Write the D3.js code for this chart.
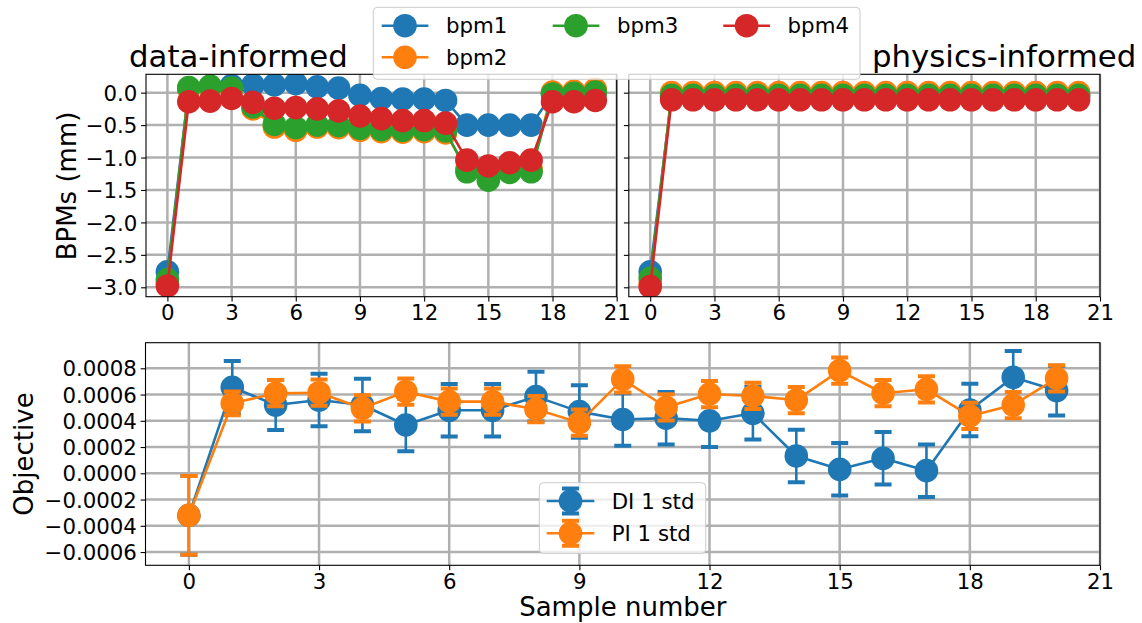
<!DOCTYPE html>
<html>
<head>
<meta charset="utf-8">
<script src="https://cdn.jsdelivr.net/npm/d3@7"></script>
<style>
  body { margin: 0; background: #fff; }
  svg { font-family: "DejaVu Sans", sans-serif; }
</style>
</head>
<body>
<div id="vis"></div>
<script>
// sample numbers and tick values
var samples = [0, 1, 2, 3, 4, 5, 6, 7, 8, 9, 10, 11, 12, 13, 14, 15, 16, 17, 18, 19, 20];
var xTicks = [0, 3, 6, 9, 12, 15, 18, 21];
var bpmTicks = [0.0, -0.5, -1.0, -1.5, -2.0, -2.5, -3.0];
var objTicks = [0.0008, 0.0006, 0.0004, 0.0002, 0.0, -0.0002, -0.0004, -0.0006];
var bpmNames = ["bpm1", "bpm2", "bpm3", "bpm4"];
var errNames = ["DI 1 std", "PI 1 std"];

// data-informed BPM readings (mm)
var bpm1DI = [-2.76, 0.06, 0.08, 0.11, 0.12, 0.12, 0.14, 0.09, 0.07, -0.04, -0.09, -0.10, -0.10, -0.12, -0.50, -0.50, -0.50, -0.50, -0.02, -0.01, 0.00];
var bpm2DI = [-2.93, 0.06, 0.08, 0.05, -0.25, -0.53, -0.58, -0.53, -0.54, -0.58, -0.60, -0.61, -0.60, -0.62, -1.18, -1.28, -1.18, -1.17, 0.01, 0.02, 0.05];
var bpm3DI = [-2.88, 0.08, 0.10, 0.07, -0.22, -0.49, -0.54, -0.50, -0.51, -0.55, -0.57, -0.58, -0.57, -0.59, -1.22, -1.35, -1.23, -1.22, -0.02, -0.01, 0.01];
var bpm4DI = [-2.98, -0.14, -0.13, -0.09, -0.15, -0.24, -0.23, -0.25, -0.28, -0.36, -0.40, -0.43, -0.43, -0.47, -1.04, -1.13, -1.08, -1.04, -0.14, -0.14, -0.12];

// physics-informed BPM readings (mm)
var bpm1PI = [-2.76, -0.05, -0.05, -0.05, -0.05, -0.05, -0.05, -0.05, -0.05, -0.05, -0.05, -0.05, -0.05, -0.05, -0.05, -0.05, -0.05, -0.05, -0.05, -0.05, -0.05];
var bpm2PI = [-2.95, 0.00, 0.00, 0.00, 0.00, 0.00, 0.00, 0.00, 0.00, 0.00, 0.00, 0.00, 0.00, 0.00, 0.00, 0.00, 0.00, 0.00, 0.00, 0.00, 0.00];
var bpm3PI = [-2.86, -0.04, -0.04, -0.04, -0.04, -0.04, -0.04, -0.04, -0.04, -0.04, -0.04, -0.04, -0.04, -0.04, -0.04, -0.04, -0.04, -0.04, -0.04, -0.04, -0.04];
var bpm4PI = [-2.99, -0.11, -0.11, -0.11, -0.11, -0.11, -0.11, -0.11, -0.11, -0.11, -0.11, -0.11, -0.11, -0.11, -0.11, -0.11, -0.11, -0.11, -0.11, -0.11, -0.11];

// objective mean and std
var diMean = [-0.00032, 0.000655, 0.00052, 0.000558, 0.00052, 0.000368, 0.00048, 0.00048, 0.000584, 0.00047, 0.00041, 0.00042, 0.0004, 0.000457, 0.000132, 0.00003, 0.000114, 0.00002, 0.000482, 0.000731, 0.00063];
var diStd = [0.0003, 0.0002, 0.00019, 0.0002, 0.0002, 0.0002, 0.0002, 0.0002, 0.00019, 0.0002, 0.0002, 0.0002, 0.0002, 0.0002, 0.0002, 0.0002, 0.0002, 0.0002, 0.0002, 0.0002, 0.00019];
var piMean = [-0.00032, 0.000533, 0.00061, 0.000614, 0.000495, 0.000622, 0.000546, 0.000546, 0.000488, 0.000386, 0.000716, 0.000503, 0.000604, 0.000589, 0.000558, 0.000782, 0.00061, 0.00064, 0.000437, 0.00052, 0.000724];
var piStd = [0.0003, 0.00009, 0.0001, 0.0001, 0.0001, 0.0001, 0.0001, 0.0001, 0.0001, 0.0001, 0.0001, 0.0001, 0.0001, 0.0001, 0.0001, 0.0001, 0.0001, 0.0001, 0.0001, 0.0001, 0.0001];

var colors = ["#1f77b4", "#ff7f0e", "#2ca02c", "#d62728"];
var w = 1142, h = 623;
var markerR = 11.8, lineW = 2.6, gridColor = "#b0b0b0", gridW = 2.5;
var tickFont = "21.3px", labelFont = "26px", titleFont = "30.8px", legendFont = "21.3px";

var svg = d3.select("#vis").append("svg")
    .attr("width", w)
    .attr("height", h);

var clipId = 0;

function makePanel(box, xDomain, yDomain, yTickVals, yFmt, showYLabels) {
  var x = d3.scaleLinear().domain(xDomain).range([box.left, box.right]);
  var y = d3.scaleLinear().domain(yDomain).range([box.bottom, box.top]);
  var g = svg.append("g");

  // grid
  g.append("g").selectAll("line.gx")
    .data(xTicks).enter().append("line")
    .attr("x1", function(d) { return x(d); })
    .attr("x2", function(d) { return x(d); })
    .attr("y1", box.top).attr("y2", box.bottom)
    .style("stroke", gridColor).style("stroke-width", gridW);
  g.append("g").selectAll("line.gy")
    .data(yTickVals).enter().append("line")
    .attr("y1", function(d) { return y(d); })
    .attr("y2", function(d) { return y(d); })
    .attr("x1", box.left).attr("x2", box.right)
    .style("stroke", gridColor).style("stroke-width", gridW);

  clipId++;
  svg.append("clipPath").attr("id", "clip" + clipId)
    .append("rect")
    .attr("x", box.left).attr("y", box.top)
    .attr("width", box.right - box.left).attr("height", box.bottom - box.top);
  var plot = g.append("g").attr("clip-path", "url(#clip" + clipId + ")");

  return { x: x, y: y, g: g, plot: plot, box: box, yTickVals: yTickVals, yFmt: yFmt, showYLabels: showYLabels };
}

function finishPanel(p) {
  var box = p.box;
  var xAxis = p.g.append("g")
    .attr("transform", "translate(0," + box.bottom + ")")
    .call(d3.axisBottom(p.x).tickValues(xTicks).tickFormat(d3.format("d")).tickSizeOuter(0).tickSize(4.9).tickPadding(3.6));
  var yAxis = p.g.append("g")
    .attr("transform", "translate(" + box.left + ",0)")
    .call(d3.axisLeft(p.y).tickValues(p.yTickVals).tickFormat(p.showYLabels ? p.yFmt : "").tickSizeOuter(0).tickSize(4.9).tickPadding(3.7));
  [xAxis, yAxis].forEach(function(a) {
    a.select(".domain").remove();
    a.selectAll("line").style("stroke", "#000").style("stroke-width", 1.1);
    a.selectAll("text").style("font-size", tickFont).style("fill", "#000")
      .style("font-family", "DejaVu Sans");
  });
  yAxis.selectAll("text").attr("dy", "0.36em");
  p.g.append("rect")
    .attr("x", box.left).attr("y", box.top)
    .attr("width", box.right - box.left).attr("height", box.bottom - box.top)
    .style("fill", "none").style("stroke", "#000").style("stroke-width", 1.1);
}

function drawSeries(p, values, color) {
  var line = d3.line()
    .x(function(d, i) { return p.x(samples[i]); })
    .y(function(d) { return p.y(d); });
  p.plot.append("path")
    .datum(values)
    .attr("d", line)
    .style("fill", "none").style("stroke", color).style("stroke-width", lineW)
    .style("stroke-linejoin", "round");
  p.plot.append("g").selectAll("circle")
    .data(values).enter().append("circle")
    .attr("cx", function(d, i) { return p.x(samples[i]); })
    .attr("cy", function(d) { return p.y(d); })
    .attr("r", markerR)
    .style("fill", color);
}

function drawErrSeries(p, means, stds, color) {
  var line = d3.line()
    .x(function(d, i) { return p.x(samples[i]); })
    .y(function(d) { return p.y(d); });
  var bars = p.plot.append("g");
  means.forEach(function(m, i) {
    var cx = p.x(samples[i]);
    var yTop = p.y(m + stds[i]), yBot = p.y(m - stds[i]);
    bars.append("line")
      .attr("x1", cx).attr("x2", cx).attr("y1", yTop).attr("y2", yBot)
      .style("stroke", color).style("stroke-width", lineW);
    [yTop, yBot].forEach(function(yc) {
      bars.append("line")
        .attr("x1", cx - 8.5).attr("x2", cx + 8.5).attr("y1", yc).attr("y2", yc)
        .style("stroke", color).style("stroke-width", 4);
    });
  });
  p.plot.append("path")
    .datum(means)
    .attr("d", line)
    .style("fill", "none").style("stroke", color).style("stroke-width", lineW)
    .style("stroke-linejoin", "round");
  p.plot.append("g").selectAll("circle")
    .data(means).enter().append("circle")
    .attr("cx", function(d, i) { return p.x(samples[i]); })
    .attr("cy", function(d) { return p.y(d); })
    .attr("r", markerR)
    .style("fill", color);
}

// top left: data-informed
var pDI = makePanel({left: 146, right: 616.7, top: 74.3, bottom: 296.7}, [-1, 21], [-3.145, 0.283], bpmTicks, d3.format(".1f"), true);
[bpm1DI, bpm2DI, bpm3DI, bpm4DI].forEach(function(s, i) { drawSeries(pDI, s, colors[i]); });
finishPanel(pDI);

// top right: physics-informed
var pPI = makePanel({left: 628.8, right: 1100, top: 74.3, bottom: 296.7}, [-1, 21], [-3.145, 0.283], bpmTicks, d3.format(".1f"), false);
[bpm1PI, bpm2PI, bpm3PI, bpm4PI].forEach(function(s, i) { drawSeries(pPI, s, colors[i]); });
finishPanel(pPI);

// bottom: objective
var pObj = makePanel({left: 145.5, right: 1100, top: 342.7, bottom: 565.3}, [-1, 21], [-0.000701, 0.000995], objTicks, d3.format(".4f"), true);
drawErrSeries(pObj, diMean, diStd, colors[0]);
drawErrSeries(pObj, piMean, piStd, colors[1]);
finishPanel(pObj);

// titles and axis labels
svg.append("text").attr("x", 129).attr("y", 66.5).text("data-informed")
  .style("font-size", titleFont);
svg.append("text").attr("x", 872).attr("y", 66.5).text("physics-informed")
  .style("font-size", titleFont);
svg.append("text")
  .attr("transform", "translate(76,186) rotate(-90)")
  .attr("text-anchor", "middle").text("BPMs (mm)")
  .style("font-size", labelFont);
svg.append("text")
  .attr("transform", "translate(32.5,454) rotate(-90)")
  .attr("text-anchor", "middle").text("Objective")
  .style("font-size", labelFont);
svg.append("text")
  .attr("x", 622.8).attr("y", 616)
  .attr("text-anchor", "middle").text("Sample number")
  .style("font-size", labelFont);

// top legend
var topLeg = svg.append("g");
topLeg.append("rect")
  .attr("x", 373.3).attr("y", 7.3).attr("width", 486.7).attr("height", 72)
  .attr("rx", 4)
  .style("fill", "#fff").style("fill-opacity", 0.8)
  .style("stroke", "#cccccc").style("stroke-width", 1);
var legPos = [[381.7, 25.7], [381.7, 57.3], [552.7, 25.7], [723.3, 25.7]];
bpmNames.forEach(function(name, i) {
  var lx = legPos[i][0], ly = legPos[i][1];
  topLeg.append("line")
    .attr("x1", lx).attr("x2", lx + 46.7).attr("y1", ly).attr("y2", ly)
    .style("stroke", colors[i]).style("stroke-width", lineW);
  topLeg.append("circle")
    .attr("cx", lx + 23.3).attr("cy", ly).attr("r", markerR)
    .style("fill", colors[i]);
  topLeg.append("text")
    .attr("x", lx + 64.3).attr("y", ly).attr("dy", "0.36em")
    .text(name).style("font-size", legendFont);
});

// bottom legend
var botLeg = svg.append("g");
botLeg.append("rect")
  .attr("x", 539.3).attr("y", 482.7).attr("width", 166.4).attr("height", 70.6)
  .attr("rx", 4)
  .style("fill", "#fff").style("fill-opacity", 0.8)
  .style("stroke", "#cccccc").style("stroke-width", 1);
var errRows = [501, 533.3];
errNames.forEach(function(name, i) {
  var lx = 546.7, ly = errRows[i], cx = 570.5;
  botLeg.append("line")
    .attr("x1", lx).attr("x2", lx + 47.6).attr("y1", ly).attr("y2", ly)
    .style("stroke", colors[i]).style("stroke-width", lineW);
  botLeg.append("line")
    .attr("x1", cx).attr("x2", cx).attr("y1", ly - 12.5).attr("y2", ly + 12.5)
    .style("stroke", colors[i]).style("stroke-width", lineW);
  [ly - 12.5, ly + 12.5].forEach(function(yc) {
    botLeg.append("line")
      .attr("x1", cx - 8.5).attr("x2", cx + 8.5).attr("y1", yc).attr("y2", yc)
      .style("stroke", colors[i]).style("stroke-width", 4);
  });
  botLeg.append("circle")
    .attr("cx", cx).attr("cy", ly).attr("r", markerR)
    .style("fill", colors[i]);
  botLeg.append("text")
    .attr("x", 611.7).attr("y", ly).attr("dy", "0.36em")
    .text(name).style("font-size", legendFont);
});
</script>
</body>
</html>
